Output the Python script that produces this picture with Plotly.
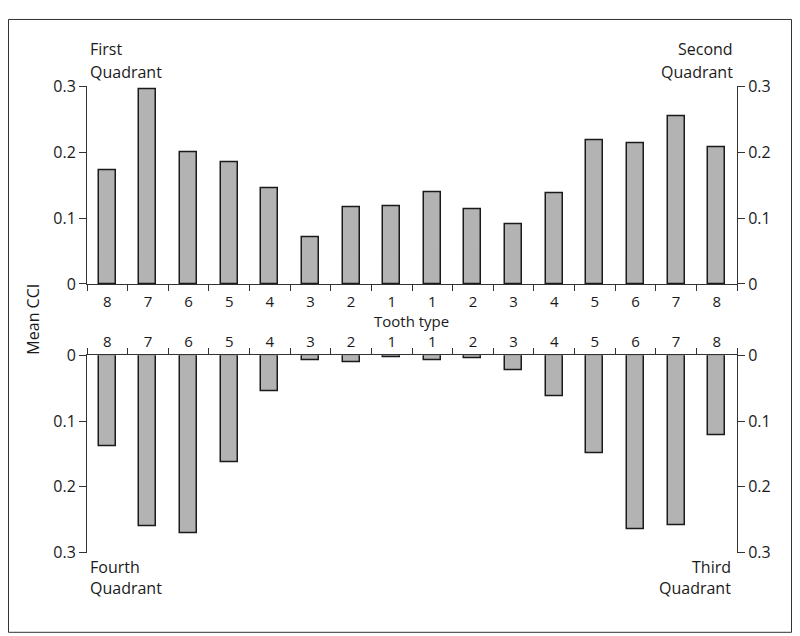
import plotly.graph_objects as go

# ---- data ----
tooth_labels = ["8", "7", "6", "5", "4", "3", "2", "1", "1", "2", "3", "4", "5", "6", "7", "8"]
positions = list(range(16))
upper_cci = [0.172, 0.295, 0.200, 0.184, 0.145, 0.071, 0.117, 0.118,
             0.139, 0.113, 0.090, 0.138, 0.218, 0.214, 0.255, 0.207]
lower_cci = [0.139, 0.260, 0.270, 0.162, 0.054, 0.008, 0.010, 0.003,
             0.007, 0.004, 0.023, 0.062, 0.149, 0.265, 0.258, 0.121]
y_ticks = [0, 0.1, 0.2, 0.3]
y_ticktext = ["0", "0.1", "0.2", "0.3"]
boundaries = [p - 0.5 for p in positions] + [15.5]

W, H = 784, 640
FONT = "Open Sans"
TXT = "#1a1a1a"
AX = "#333333"
BAR_FILL = "#b3b3b3"
BAR_LINE = "#1a1a1a"

# map from target picture pixels to figure paper fractions
X_OFF = 8
Y_OFF, Y_SCALE = 19.0, 0.962


def px_x(px):
    return (px - X_OFF) / W


def px_y(py):
    return (H - (py - Y_OFF) / Y_SCALE) / H


x_dom = [px_x(87), px_x(737)]
top_dom = [px_y(283), px_y(86)]
bot_dom = [px_y(550.5), px_y(354)]

fig = go.Figure()

bar_style = dict(marker=dict(color=BAR_FILL, line=dict(color=BAR_LINE, width=1.5)),
                 width=0.42, hoverinfo="skip", showlegend=False)
ghost_style = dict(marker=dict(color="rgba(0,0,0,0)", line=dict(width=0)),
                   width=0.42, hoverinfo="skip", showlegend=False)

fig.add_trace(go.Bar(x=positions, y=upper_cci, xaxis="x", yaxis="y", **bar_style))
fig.add_trace(go.Bar(x=positions, y=upper_cci, xaxis="x", yaxis="y2", **ghost_style))
fig.add_trace(go.Bar(x=positions, y=lower_cci, xaxis="x2", yaxis="y3", **bar_style))
fig.add_trace(go.Bar(x=positions, y=lower_cci, xaxis="x2", yaxis="y4", **ghost_style))

xtickfont = dict(family=FONT, size=15, color=TXT)
ytickfont = dict(family=FONT, size=16, color=TXT)

xcommon = dict(domain=x_dom, range=[-0.5, 15.5], tickmode="array",
               tickvals=positions, ticktext=tooth_labels, ticks="",
               showline=True, linecolor=AX, linewidth=1, showgrid=False,
               zeroline=False, tickfont=xtickfont, fixedrange=True,
               minor=dict(tickmode="array", tickvals=boundaries, ticks="outside",
                          ticklen=6, tickcolor=AX, tickwidth=1, showgrid=False))

ycommon = dict(tickmode="array", tickvals=y_ticks, ticktext=y_ticktext,
               ticks="outside", ticklen=7, tickcolor=AX, tickwidth=1,
               showline=True, linecolor=AX, linewidth=1, showgrid=False,
               zeroline=False, tickfont=ytickfont, fixedrange=True)

fig.update_layout(
    width=W, height=H,
    margin=dict(l=0, r=0, t=0, b=0),
    paper_bgcolor="white", plot_bgcolor="white",
    bargap=0,
    xaxis=dict(anchor="y", side="bottom", ticklabelstandoff=4, **xcommon),
    xaxis2=dict(anchor="y3", side="top", ticklabelstandoff=1, **xcommon),
    yaxis=dict(domain=top_dom, range=[0, 0.3], anchor="x", side="left", **ycommon),
    yaxis2=dict(range=[0, 0.3], overlaying="y", anchor="x", side="right", **ycommon),
    yaxis3=dict(domain=bot_dom, range=[0.3, 0], anchor="x2", side="left", **ycommon),
    yaxis4=dict(range=[0.3, 0], overlaying="y3", anchor="x2", side="right", **ycommon),
    shapes=[dict(type="rect", xref="paper", yref="paper",
                 x0=px_x(8.5), x1=px_x(791.5), y0=px_y(630), y1=1 - 0.5 / H,
                 line=dict(color=AX, width=1), fillcolor="rgba(0,0,0,0)")],
)

afont = dict(family=FONT, size=16, color=TXT)
notes = [
    ("First", 88, 49, "left"), ("Quadrant", 88, 72, "left"),
    ("Second", 735, 49, "right"), ("Quadrant", 735, 72, "right"),
    ("Fourth", 88, 565, "left"), ("Quadrant", 88, 586, "left"),
    ("Third", 733, 565, "right"), ("Quadrant", 733, 586, "right"),
]
for text, x, y, anchor in notes:
    fig.add_annotation(text=text, x=px_x(x), y=px_y(y), xref="paper", yref="paper",
                       xanchor=anchor, yanchor="middle", showarrow=False, font=afont)

fig.add_annotation(text="Tooth type", x=px_x(412), y=px_y(319.8), xref="paper", yref="paper",
                   xanchor="center", yanchor="middle", showarrow=False,
                   font=dict(family=FONT, size=15, color=TXT))

fig.add_annotation(text="Mean CCI", x=px_x(33.5), y=px_y(318), xref="paper", yref="paper",
                   xanchor="center", yanchor="middle", textangle=-90,
                   showarrow=False, font=afont)

fig.write_html("out.html")
